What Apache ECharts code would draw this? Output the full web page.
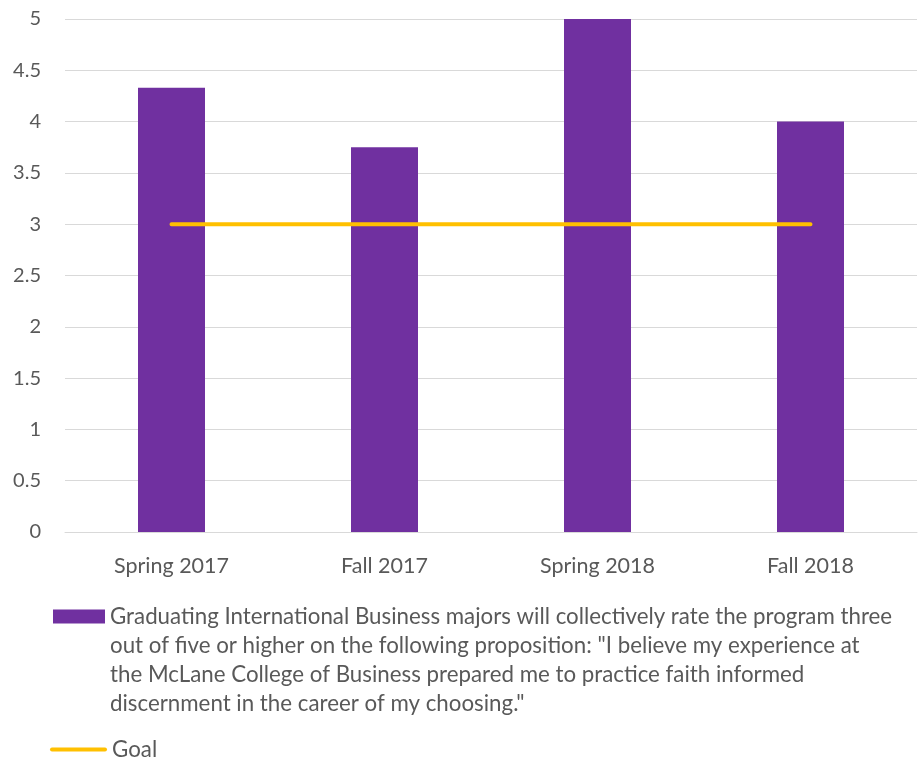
<!DOCTYPE html>
<html>
<head>
<meta charset="utf-8">
<script src="https://cdn.jsdelivr.net/npm/echarts@6/dist/echarts.min.js"></script>
<style>
  html, body { margin: 0; padding: 0; background: #fff; }
  #chart { width: 920px; height: 761px; }
</style>
</head>
<body>
<div id="chart"></div>
<script>
// Survey terms and their average ratings
const terms = ['Spring 2017', 'Fall 2017', 'Spring 2018', 'Fall 2018'];
const ratings = [4.33, 3.75, 5, 4];
const goal = [3, 3, 3, 3];

const barName = 'Graduating International Business majors will collectively rate the program three\n' +
  'out of five or higher on the following proposition: "I believe my experience at\n' +
  'the McLane College of Business prepared me to practice faith informed\n' +
  'discernment in the career of my choosing."';
const goalName = 'Goal';

const textColor = '#595959';
const fontFamily = 'Lato, "Open Sans", sans-serif';

const chart = echarts.init(document.getElementById('chart'), null, { renderer: 'canvas' });

chart.setOption({
  animation: false,
  backgroundColor: '#ffffff',
  textStyle: { fontFamily: fontFamily, color: textColor },
  grid: { left: 65, right: 3, top: 19, bottom: 229, containLabel: false },
  legend: [
    {
      data: [{
        name: barName,
        // filled box at the top of a tall, otherwise empty icon area so it sits beside the first line
        icon: 'path://M0,0L52,0L52,14L0,14Z M0,101L0.01,101L0.01,100.99Z'
      }],
      left: 53,
      top: 602,
      padding: 0,
      itemWidth: 52,
      itemHeight: 101,
      textStyle: { fontSize: 22.3, color: textColor, lineHeight: 29, fontFamily: fontFamily }
    },
    {
      data: [{
        name: goalName,
        icon: 'path://M2,0L55,0A2,2 0 0 1 55,4L2,4A2,2 0 0 1 2,0Z'
      }],
      left: 50,
      top: 735,
      padding: 0,
      itemWidth: 57,
      itemHeight: 4,
      textStyle: { fontSize: 22.3, color: textColor, lineHeight: 29, fontFamily: fontFamily }
    }
  ],
  xAxis: {
    type: 'category',
    data: terms,
    axisLine: { lineStyle: { color: '#D9D9D9', width: 1 } },
    axisTick: { show: false },
    axisLabel: { color: textColor, fontSize: 21.5, margin: 23, fontFamily: fontFamily }
  },
  yAxis: {
    type: 'value',
    min: 0,
    max: 5,
    interval: 0.5,
    axisLine: { show: false },
    axisTick: { show: false },
    splitLine: { lineStyle: { color: '#D9D9D9', width: 1 } },
    axisLabel: { color: textColor, fontSize: 20, margin: 24, fontFamily: fontFamily }
  },
  series: [
    {
      name: barName,
      type: 'bar',
      data: ratings,
      barWidth: 67,
      itemStyle: { color: '#7030A0' }
    },
    {
      name: goalName,
      type: 'line',
      data: goal,
      symbol: 'none',
      itemStyle: { color: '#FFC000' },
      lineStyle: { color: '#FFC000', width: 4, cap: 'round' }
    }
  ]
});
</script>
</body>
</html>
